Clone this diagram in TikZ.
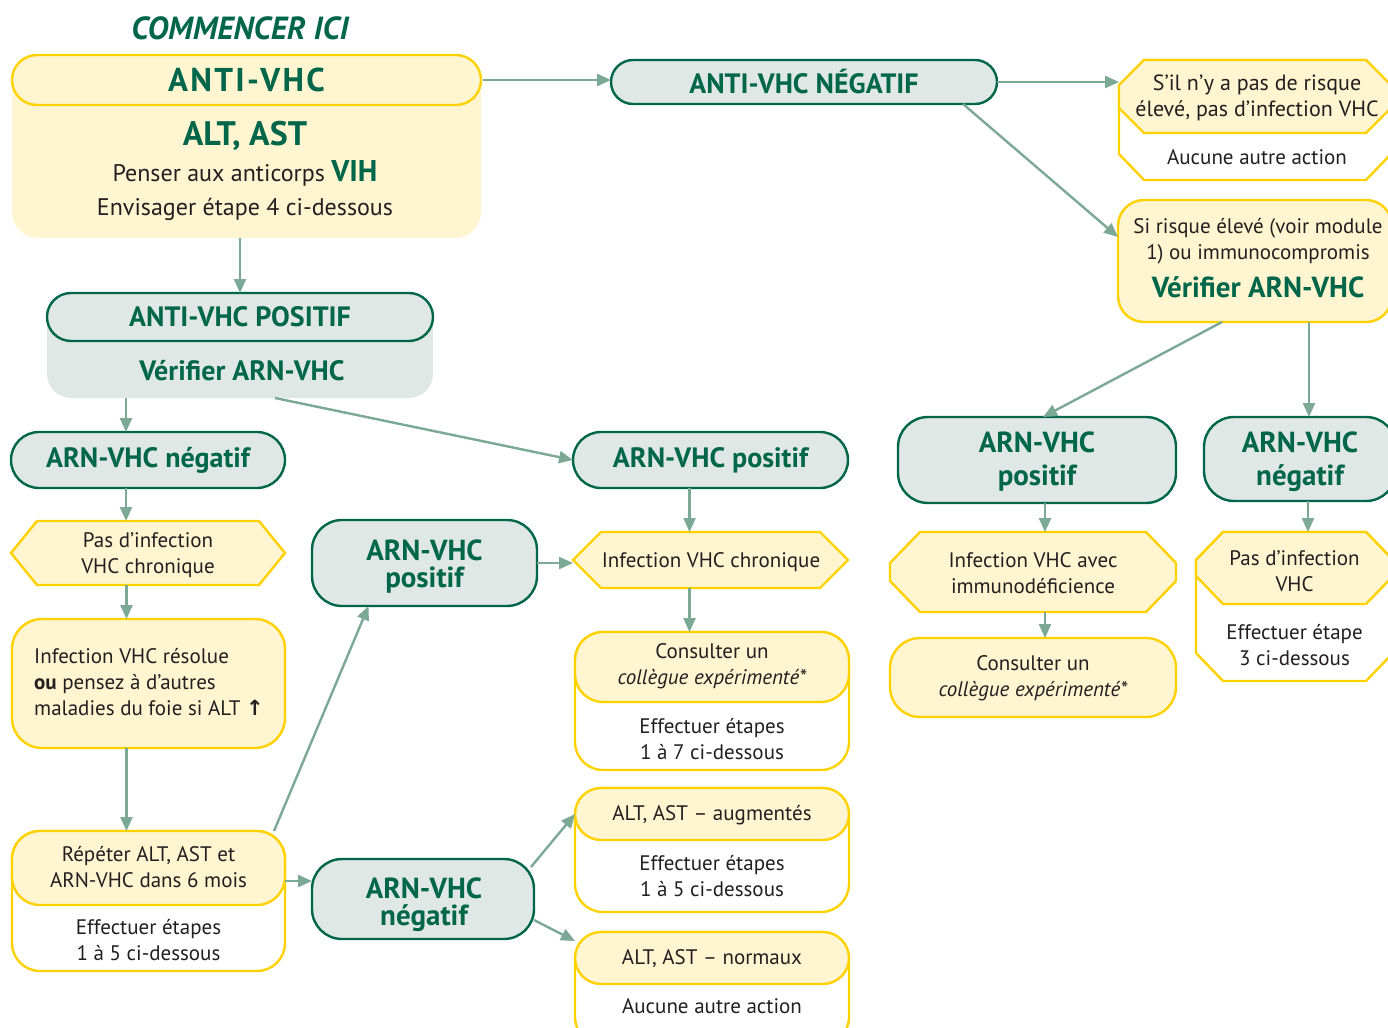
\documentclass[tikz,border=0pt]{standalone}
\usepackage{fontspec}
\setmainfont{PT Sans}
\newfontfamily\headfont{PT Sans}
\newfontfamily\symfont{DejaVu Sans}
\usetikzlibrary{arrows.meta}

\definecolor{vhcgreen}{RGB}{0,102,74}
\definecolor{vhcmint}{RGB}{223,232,228}
\definecolor{vhcgold}{RGB}{255,209,0}
\definecolor{vhccream}{RGB}{255,245,208}
\definecolor{vhcarrow}{RGB}{124,168,150}
\definecolor{vhcink}{RGB}{35,31,32}

\tikzset{
	box/.style = {rectangle, inner sep = 0pt, outer sep = 0pt},
	goldfill/.style = {draw = vhcgold, fill = vhccream, line width = 2.4pt},
	goldframe/.style = {draw = vhcgold, fill = white, line width = 2.4pt},
	greenbox/.style = {box, draw = vhcgreen, fill = vhcmint, line width = 2.4pt, text = vhcgreen, align = center,
		font = \headfont\bfseries\fontsize{28}{30}\selectfont},
	head/.style = {inner sep = 0pt, text = vhcgreen, align = center, font = \headfont\bfseries\fontsize{28}{30}\selectfont},
	twoline/.style = {head, font = \headfont\bfseries\fontsize{29}{27}\selectfont},
	txt/.style = {inner sep = 0pt, text = vhcink, align = center, font = \fontsize{21}{26}\selectfont},
	bigtxt/.style = {txt, font = \fontsize{24}{26}\selectfont},
	flow/.style = {draw = vhcarrow, line width = 2.4pt, -{Triangle[length = 14pt, width = 12pt]}}
}

% octagon round a node: name, x cut, y cut
\newcommand{\chamfer}[3]{([yshift = -#3]#1.north west) -- ([xshift = #2]#1.north west) -- ([xshift = -#2]#1.north east) -- ([yshift = -#3]#1.north east) -- ([yshift = #3]#1.south east) -- ([xshift = -#2]#1.south east) -- ([xshift = #2]#1.south west) -- ([yshift = #3]#1.south west) -- cycle}

\begin{document}
\begin{tikzpicture}[x = 1pt, y = -1pt]

\useasboundingbox (0, 0) rectangle (1388, 1027);
\clip (0, 0) rectangle (1388, 1027);

\node[head, font = \headfont\bfseries\itshape\fontsize{32}{32}\selectfont] (title) at (240, 28) {COMMENCER ICI};

% start
\node[box, fill = vhccream, rounded corners = 26pt, minimum width = 469pt, minimum height = 183pt] (start) at (246.5, 146.5) {};
\node[box, goldfill, rounded corners = 25pt, minimum width = 469pt, minimum height = 50pt, text = vhcgreen,
	font = \headfont\bfseries\fontsize{33}{33}\selectfont] (antivhc) at (246.5, 80) {\addfontfeature{LetterSpace = 7}ANTI-VHC};
\node[head, font = \headfont\bfseries\fontsize{34}{34}\selectfont] (altast) at (245, 136) {ALT, AST};
\node[bigtxt] (penser) at (245, 173) {Penser aux anticorps {\headfont\bfseries\color{vhcgreen}\fontsize{30}{30}\selectfont VIH}};
\node[bigtxt] (envisager) at (245, 209) {Envisager étape 4 ci-dessous};

\node[greenbox, rounded corners = 22pt, minimum width = 386pt, minimum height = 44pt] (antineg) at (804, 82) {ANTI-VHC NÉGATIF};

% right top
\node[box, minimum width = 272pt, minimum height = 120pt] (sansrisque) at (1255, 120) {};
\node[box, minimum width = 272pt, minimum height = 73pt] (sansrisquehead) at (1255, 96.5) {};
\draw[goldframe] \chamfer{sansrisque}{25pt}{26pt};
\draw[goldfill] \chamfer{sansrisquehead}{25pt}{25pt};
\node[txt, font = \fontsize{22}{26}\selectfont] (sansrisquetxt) at (1257, 98) {S’il n’y a pas de risque\\élevé, pas d’infection VHC};
\node[txt] (aucunetop) at (1257, 157) {Aucune autre action};

\node[box, goldfill, rounded corners = 26pt, minimum width = 274pt, minimum height = 122pt] (risque) at (1255, 261) {};
\node[txt] (risquetxt) at (1258, 241) {Si risque élevé (voir module\\1) ou immunocompromis};
\node[head, font = \headfont\bfseries\fontsize{29}{30}\selectfont] (verifright) at (1258, 287) {Vérifier ARN-VHC};

% anti-VHC positif
\node[box, fill = vhcmint, rounded corners = 24pt, minimum width = 386pt, minimum height = 105pt] (antipos) at (240, 345.5) {};
\node[greenbox, rounded corners = 24pt, minimum width = 386pt, minimum height = 48pt] (antiposhead) at (240, 317) {ANTI-VHC POSITIF};
\node[head] (verifleft) at (242, 371) {Vérifier ARN-VHC};

% left column
\node[greenbox, rounded corners = 28pt, minimum width = 274pt, minimum height = 56pt] (arnneg) at (148, 460) {ARN-VHC négatif};
\node[box, minimum width = 274pt, minimum height = 64pt] (pasinf) at (148, 553) {};
\draw[goldfill] \chamfer{pasinf}{26pt}{32pt};
\node[txt] (pasinftxt) at (148, 555) {Pas d’infection\\VHC chronique};

\node[box, goldfill, rounded corners = 30pt, minimum width = 273pt, minimum height = 129pt] (resolue) at (148.5, 683.5) {};
\node[txt, align = left, anchor = west] (resoluetxt) at (34, 682) {Infection VHC résolue\\{\bfseries ou} pensez à d’autres\\maladies du foie si ALT {\symfont\bfseries ↑}};

\node[box, goldframe, rounded corners = 28pt, minimum width = 273pt, minimum height = 140pt] (repeter) at (148.5, 901) {};
\node[box, goldfill, rounded corners = 28pt, minimum width = 273pt, minimum height = 74pt] (repeterhead) at (148.5, 868) {};
\node[txt] (repetertxt) at (148.5, 867) {Répéter ALT, AST et\\ARN-VHC dans 6 mois};
\node[txt] (etapesleft) at (148.5, 940) {Effectuer étapes\\1 à 5 ci-dessous};

% middle
\node[greenbox, rounded corners = 30pt, minimum width = 225pt, minimum height = 86pt] (arnposmid) at (424.5, 563) {};
\node[twoline] (arnposmidtxt) at (424.5, 567) {ARN-VHC\\positif};
\node[greenbox, rounded corners = 30pt, minimum width = 222pt, minimum height = 80pt] (arnnegmid) at (423, 899) {};
\node[twoline] (arnnegmidtxt) at (424, 905) {ARN-VHC\\négatif};

\node[greenbox, rounded corners = 28pt, minimum width = 275pt, minimum height = 56pt] (arnpos) at (710.5, 460) {ARN-VHC positif};
\node[box, minimum width = 275pt, minimum height = 56pt] (chron) at (710.5, 560) {};
\draw[goldfill] \chamfer{chron}{28pt}{28pt};
\node[txt] (chrontxt) at (711, 562) {Infection VHC chronique};

\node[box, goldframe, rounded corners = 28pt, minimum width = 274pt, minimum height = 138pt] (consult) at (712, 701) {};
\node[box, goldfill, rounded corners = 28pt, minimum width = 274pt, minimum height = 70pt] (consulthead) at (712, 667) {};
\node[txt] (consulttxt) at (712, 666) {Consulter un\\\textit{collègue expérimenté*}};
\node[txt] (etapesmid) at (712, 739) {Effectuer étapes\\1 à 7 ci-dessous};

\node[box, goldframe, rounded corners = 28pt, minimum width = 274pt, minimum height = 124pt] (augm) at (712, 850) {};
\node[box, goldfill, rounded corners = 26pt, minimum width = 274pt, minimum height = 52pt] (augmhead) at (712, 814) {};
\node[txt] (augmtxt) at (712, 815) {ALT, AST – augmentés};
\node[txt] (etapesaugm) at (712, 876) {Effectuer étapes\\1 à 5 ci-dessous};

\node[box, goldframe, rounded corners = 28pt, minimum width = 274pt, minimum height = 113pt] (norm) at (712, 988.5) {};
\node[box, goldfill, rounded corners = 26pt, minimum width = 274pt, minimum height = 52pt] (normhead) at (712, 958) {};
\node[txt] (normtxt) at (712, 959) {ALT, AST – normaux};
\node[txt] (aucunebottom) at (712, 1006) {Aucune autre action};

% right group
\node[greenbox, rounded corners = 30pt, minimum width = 278pt, minimum height = 86pt] (arnposright) at (1037, 460) {};
\node[twoline, font = \headfont\bfseries\fontsize{29}{33}\selectfont] (arnposrighttxt) at (1037, 462) {ARN-VHC\\positif};
\node[greenbox, rounded corners = 30pt, minimum width = 192pt, minimum height = 84pt] (arnnegright) at (1300, 459) {};
\node[twoline, font = \headfont\bfseries\fontsize{29}{33}\selectfont] (arnnegrighttxt) at (1300, 462) {ARN-VHC\\négatif};

\node[box, minimum width = 286pt, minimum height = 80pt] (immuno) at (1033, 572) {};
\draw[goldfill] \chamfer{immuno}{30pt}{31pt};
\node[txt] (immunotxt) at (1033, 573) {Infection VHC avec\\immunodéficience};
\node[box, goldfill, rounded corners = 30pt, minimum width = 286pt, minimum height = 79pt] (consultright) at (1033, 677.5) {};
\node[txt] (consultrighttxt) at (1033, 678) {Consulter un\\\textit{collègue expérimenté*}};

\node[box, minimum width = 197pt, minimum height = 149pt] (pasvhc) at (1294.5, 606.5) {};
\node[box, minimum width = 197pt, minimum height = 72pt] (pasvhchead) at (1294.5, 568) {};
\draw[goldframe] \chamfer{pasvhc}{27pt}{28pt};
\draw[goldfill] \chamfer{pasvhchead}{27pt}{28pt};
\node[txt] (pasvhctxt) at (1294.5, 571) {Pas d’infection\\VHC};
\node[txt] (etaperight) at (1294.5, 645) {Effectuer étape\\3 ci-dessous};

% connectors
\draw[flow, shorten <= 2pt] (antivhc.east) -- (antivhc.east -| antineg.west);
\draw[flow] (antipos.north |- start.south) -- (antipos.north);
\foreach \a/\b in {antipos/arnneg, arnneg/pasinf, pasinf/resolue, resolue/repeter}
	\draw[flow] ([xshift = -22pt]\b.north |- \a.south) -- ([xshift = -22pt]\b.north);
\draw[flow] ([xshift = 35pt]antipos.south) -- (arnpos.west);
\draw[flow] (antineg.east) -- (antineg.east -| sansrisque.west);
\draw[flow] ([xshift = 159pt]antineg.south) -- ([yshift = 24pt]risque.west);
\draw[flow] ([xshift = -33pt]risque.south) -- ([xshift = 6pt]arnposright.north);
\draw[flow] ([xshift = 9pt]arnnegright.north |- risque.south) -- ([xshift = 9pt]arnnegright.north);
\draw[flow] ([xshift = 8pt]arnposright.south) -- ([xshift = 8pt]arnposright.south |- immuno.north);
\draw[flow] ([xshift = 12pt]immuno.south) -- ([xshift = 12pt]immuno.south |- consultright.north);
\draw[flow] ([xshift = 8pt]arnnegright.south) -- ([xshift = 8pt]arnnegright.south |- pasvhc.north);
\draw[flow] ([xshift = -21pt]arnpos.south) -- ([xshift = -21pt]arnpos.south |- chron.north);
\draw[flow] ([xshift = -21pt]chron.south) -- ([xshift = -21pt]chron.south |- consult.north);
\draw[flow] (arnposmid.east) -- (arnposmid.east -| chron.west);
\draw[flow] ([xshift = -11pt]repeter.north east) -- ([xshift = -56pt]arnposmid.south);
\draw[flow] ([yshift = 18pt]arnnegmid.west -| repeter.east) -- ([yshift = 18pt]arnnegmid.west);
\draw[flow] ([xshift = -3pt, yshift = -8pt]arnnegmid.north east) -- (augmhead.west);
\draw[flow] ([yshift = -21pt]arnnegmid.east) -- ([yshift = 17pt]normhead.west);

\end{tikzpicture}
\end{document}
